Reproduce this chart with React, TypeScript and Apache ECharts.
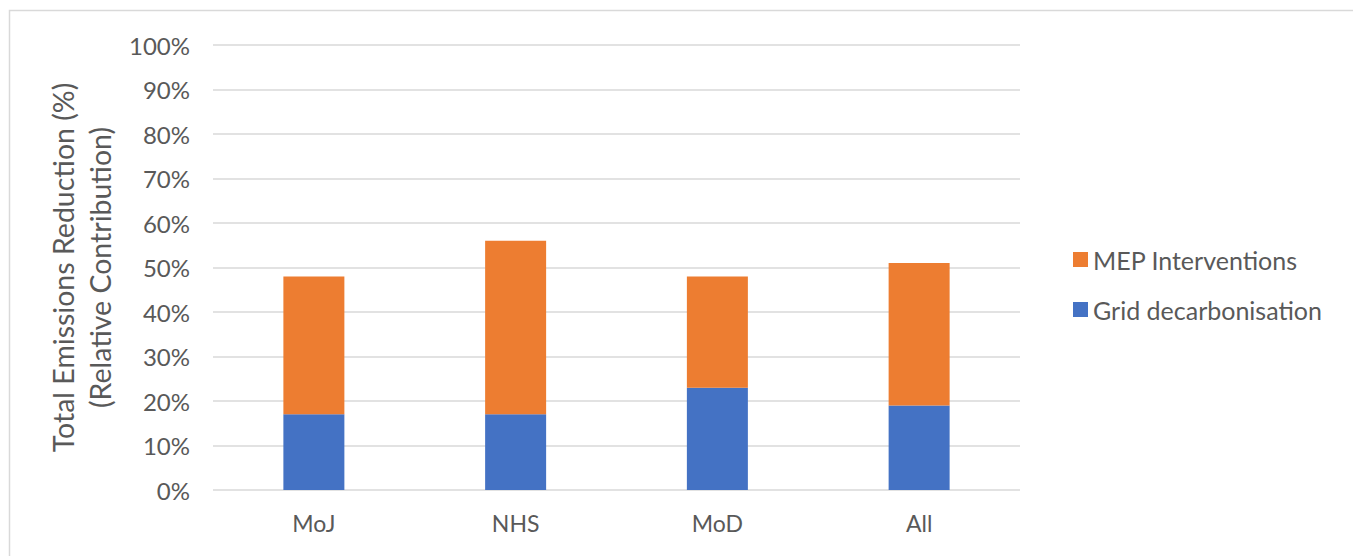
import React, { useEffect, useRef } from "react";
import * as echarts from "echarts";

const categories = ["MoJ", "NHS", "MoD", "All"];
const gridDecarbonisation = [17, 17, 23, 19];
const mepInterventions = [31, 39, 25, 32];
const seriesNames = ["MEP Interventions", "Grid decarbonisation"];

export default function App() {
  const ref = useRef<HTMLDivElement>(null);
  useEffect(() => {
    if (!ref.current) return;
    const chart = echarts.init(ref.current, null, { renderer: "svg" });
    const font = "Lato, 'Open Sans', sans-serif";
    chart.setOption({
      animation: false,
      textStyle: { fontFamily: font },
      graphic: [
        {
          type: "rect",
          shape: { x: 9.5, y: 10.5, width: 1400, height: 600 },
          style: { fill: "none", stroke: "#D9D9D9", lineWidth: 1.5 },
          silent: true,
        },
      ],
      grid: { left: 213, right: 333, top: 45, bottom: 66, containLabel: false },
      legend: {
        orient: "vertical",
        left: 1068,
        top: 242,
        itemWidth: 15,
        itemHeight: 15,
        itemGap: 25,
        icon: "rect",
        data: seriesNames,
        textStyle: { color: "#595959", fontSize: 25, fontFamily: font },
      },
      xAxis: {
        type: "category",
        data: categories,
        axisLine: { show: false },
        axisTick: { show: false },
        axisLabel: { color: "#595959", fontSize: 23, margin: 21, fontFamily: font },
      },
      yAxis: {
        type: "value",
        min: 0,
        max: 100,
        interval: 10,
        name: "Total Emissions Reduction (%)\n(Relative Contribution)",
        nameLocation: "middle",
        nameGap: 92,
        nameTextStyle: { color: "#595959", fontSize: 28.5, lineHeight: 37, fontFamily: font },
        axisLabel: {
          color: "#595959",
          fontSize: 24,
          margin: 23,
          formatter: "{value}%",
          fontFamily: font,
        },
        splitLine: { lineStyle: { color: "#D9D9D9", width: 1.5 } },
        axisLine: { show: false },
        axisTick: { show: false },
      },
      series: [
        {
          name: "Grid decarbonisation",
          type: "bar",
          stack: "total",
          data: gridDecarbonisation,
          barWidth: 61,
          itemStyle: { color: "#4472C4" },
        },
        {
          name: "MEP Interventions",
          type: "bar",
          stack: "total",
          data: mepInterventions,
          barWidth: 61,
          itemStyle: { color: "#ED7D31" },
        },
      ],
    });
    return () => chart.dispose();
  }, []);
  return (
    <div
      ref={ref}
      style={{ position: "fixed", left: 0, top: 0, width: 1353, height: 556, background: "#fff" }}
    />
  );
}
